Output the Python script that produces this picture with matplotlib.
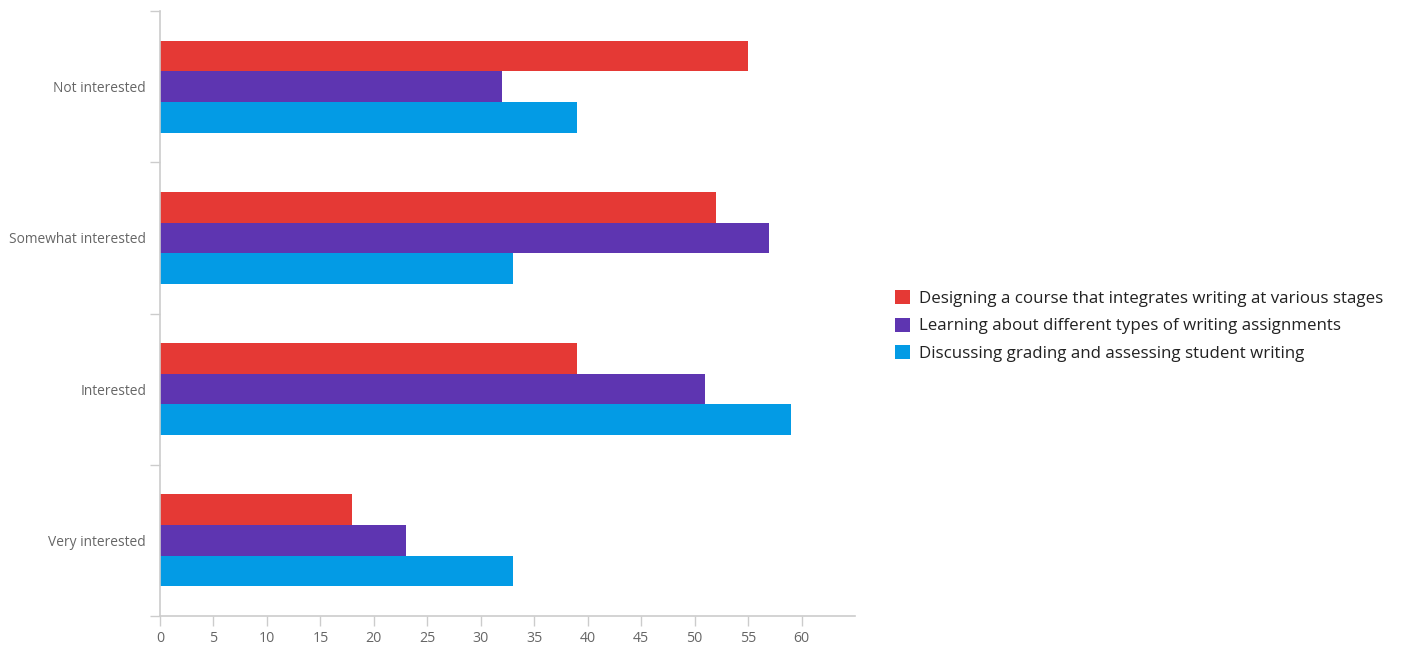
import matplotlib
matplotlib.use("Agg")
import matplotlib.pyplot as plt
import numpy as np
from matplotlib.patches import Patch

categories = ["Not interested", "Somewhat interested", "Interested", "Very interested"]
series_names = [
    "Designing a course that integrates writing at various stages",
    "Learning about different types of writing assignments",
    "Discussing grading and assessing student writing",
]
designing = [55, 52, 39, 18]
learning = [32, 57, 51, 23]
discussing = [39, 33, 59, 33]
colors = ["#e53935", "#5e35b1", "#039be5"]

plt.rcParams["font.family"] = ["Open Sans", "DejaVu Sans"]

fig = plt.figure(figsize=(14.03, 6.48), dpi=100)
ax = fig.add_axes([0.114, 0.0494, 0.4954, 0.9336])

y = np.arange(len(categories))
h = 0.203
for i, (vals, c) in enumerate(zip([designing, learning, discussing], colors)):
    ax.barh(y + (i - 1) * h, vals, height=h, color=c, linewidth=0)

ax.set_ylim(len(categories) - 0.5, -0.5)
ax.set_xlim(0, 65)
ax.set_xticks(range(0, 61, 5))
ax.set_yticks(np.arange(-0.5, len(categories), 1))
ax.set_yticklabels([])
ax.set_yticks(y, minor=True)
ax.set_yticklabels(categories, minor=True)

grey = "#cccccc"
for side in ["top", "right"]:
    ax.spines[side].set_visible(False)
for side in ["left", "bottom"]:
    ax.spines[side].set_color(grey)
    ax.spines[side].set_linewidth(1.2)
ax.tick_params(axis="y", which="major", length=7, color=grey, width=1)
ax.tick_params(axis="y", which="minor", length=0, pad=10, labelsize=9.9, labelcolor="#666666")
ax.tick_params(axis="x", length=7, color=grey, width=1, labelsize=10.2, labelcolor="#666666", pad=4)

handles = [Patch(facecolor=c, edgecolor="none") for c in colors]
fig.legend(handles, series_names, loc="center left", bbox_to_anchor=(0.627, 0.497),
           frameon=False, fontsize=12.15, handlelength=0.9, handleheight=0.9,
           handletextpad=0.55, labelspacing=0.64, labelcolor="#222222")

fig.savefig("out.png", dpi=100, facecolor="white")
